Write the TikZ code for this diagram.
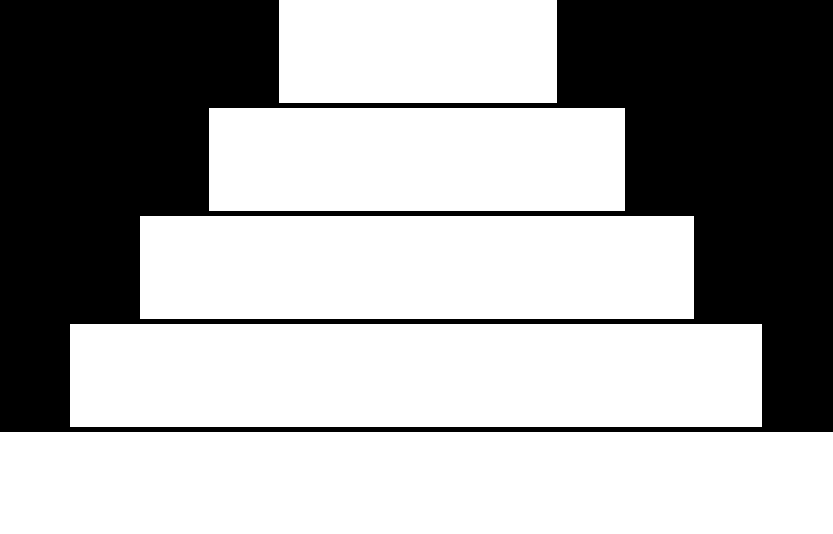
\documentclass[tikz,border=0pt]{standalone}
\begin{document}
\begin{tikzpicture}[x=1pt,y=-1pt,
  tier/.style={fill=white,draw=none,rectangle,inner sep=0pt,anchor=north west}]
\useasboundingbox (0,0) rectangle (833,534);
\fill[white] (0,0) rectangle (833,534);
\fill[black] (0,0) rectangle (833,432);
\node[tier,minimum width=278pt,minimum height=103pt] (t1) at (279,0) {};
\node[tier,minimum width=416pt,minimum height=103pt] (t2) at (209,108) {};
\node[tier,minimum width=554pt,minimum height=103pt] (t3) at (140,216) {};
\node[tier,minimum width=692pt,minimum height=103pt] (t4) at (70,324) {};
\end{tikzpicture}
\end{document}
